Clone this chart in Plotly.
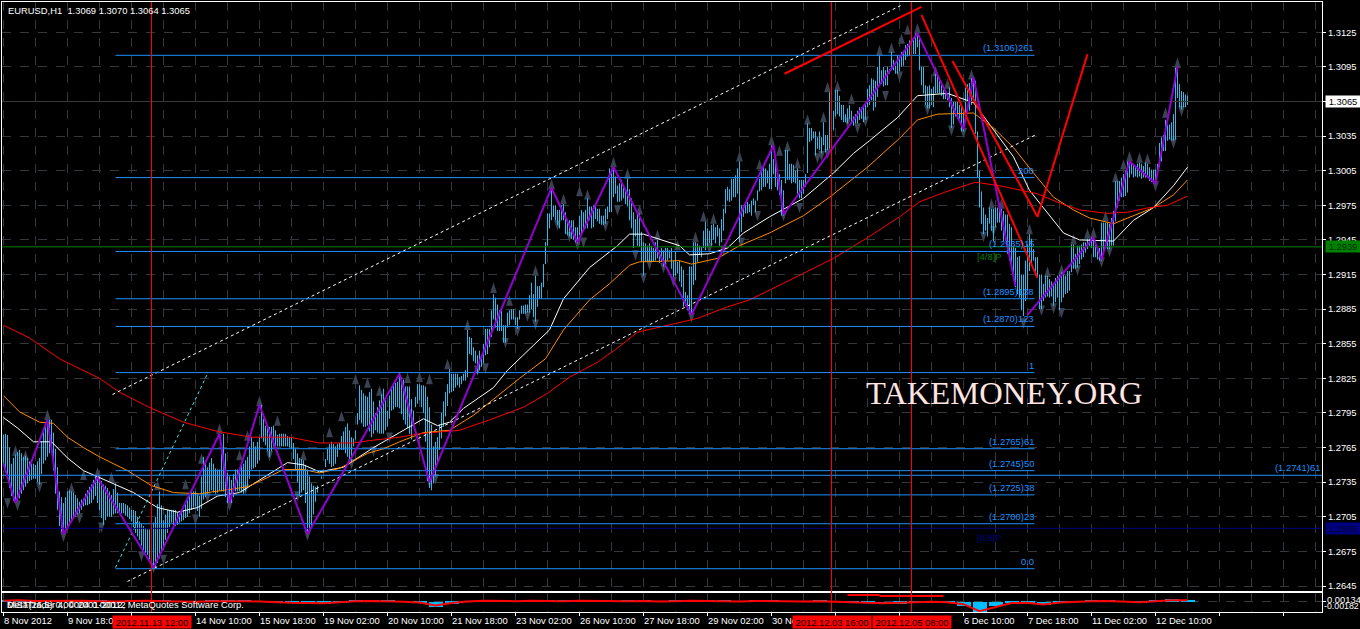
import plotly.graph_objects as go

# ---------- data: hourly EURUSD bars, in points (1/10000) ----------
bar_high = [
12776,12777,12776,12765,12751,12756,12759,12761,12763,12760,12757,12758,12756,12753,12751,12751,
12750,12753,12756,12770,12782,12787,12789,12789,12789,12778,12764,12748,12727,12722,12717,12722,
12727,12728,12727,12726,12724,12721,12718,12720,12721,12725,12728,12731,12733,12737,12740,12740,
12740,12736,12733,12732,12730,12727,12724,12729,12734,12726,12717,12717,12717,12716,12715,12713,
12711,12711,12710,12705,12701,12699,12697,12695,12694,12694,12695,12700,12705,12716,12727,12715,
12702,12707,12711,12711,12711,12711,12711,12709,12708,12710,12711,12716,12720,12724,12727,12727,
12727,12725,12723,12740,12757,12752,12748,12752,12756,12751,12747,12746,12746,12760,12777,12760,
12743,12740,12737,12742,12746,12746,12746,12749,12751,12754,12757,12766,12774,12770,12766,12770,
12774,12802,12790,12784,12783,12783,12783,12784,12780,12776,12777,12777,12777,12777,12775,12774,
12774,12769,12764,12760,12756,12755,12754,12750,12746,12740,12734,12732,12731,12732,12734,12740,
12746,12755,12764,12768,12770,12768,12766,12768,12769,12775,12779,12783,12786,12780,12774,12773,
12772,12795,12819,12815,12812,12810,12809,12813,12816,12805,12795,12800,12806,12811,12816,12806,
12797,12810,12816,12820,12821,12822,12830,12826,12824,12818,12818,12818,12807,12797,12809,12820,
12820,12819,12819,12818,12809,12800,12785,12766,12770,12774,12785,12795,12805,12813,12820,12833,
12829,12829,12829,12829,12826,12827,12829,12832,12867,12861,12860,12852,12849,12845,12849,12845,
12855,12868,12868,12868,12884,12898,12895,12889,12884,12884,12871,12871,12882,12884,12885,12885,
12878,12878,12884,12888,12888,12889,12889,12897,12908,12898,12914,12905,12905,12908,12924,12943,
12968,12968,12990,12975,12975,12971,12971,12975,12976,12969,12962,12962,12962,12962,12956,12956,
12966,12971,12969,12971,12981,12974,12974,12975,12975,12972,12972,12966,12966,12972,12974,13007,
13004,13008,13000,12992,12994,12997,12991,12988,12998,12989,12981,12969,12963,12969,12968,12952,
12943,12942,12940,12942,12940,12938,12943,12945,12936,12938,12936,12938,12938,12936,12938,12927,
12935,12926,12927,12922,12919,12900,12897,12922,12922,12943,12943,12942,12940,12939,12953,12961,
12955,12953,12958,12959,12956,12958,12955,12963,12972,12989,12991,12989,12998,12998,13001,13007,
13013,12975,12975,12975,12978,12976,12979,12981,12979,12988,12998,13005,13008,13007,13005,13011,
13027,13015,13014,13002,13002,12997,12988,13023,13023,13011,13011,13010,13005,13007,12997,12997,
12997,13002,13046,13042,13042,13039,13039,13034,13039,13034,13047,13036,13036,13073,13066,13057,
13075,13075,13070,13062,13062,13054,13059,13062,13057,13052,13054,13057,13060,13060,13062,13063,
13076,13079,13085,13084,13083,13095,13105,13092,13095,13092,13095,13093,13108,13101,13096,13105,
13102,13108,13109,13114,13115,13118,13117,13119,13124,13124,13122,13095,13095,13079,13078,13079,
13076,13078,13089,13088,13085,13082,13075,13075,13072,13077,13068,13065,13065,13065,13062,13062,
13057,13077,13080,13081,13085,13083,13083,13039,13005,12987,12973,12967,12964,12973,12972,12972,
12973,12973,12972,12972,12970,12967,12967,12959,12956,12940,12938,12930,12931,12915,12915,12927,
12941,12950,12946,12937,12930,12930,12915,12915,12907,12914,12914,12911,12909,12907,12912,12914,
12915,12917,12915,12914,12918,12918,12941,12941,12933,12940,12940,12941,12943,12943,12946,12946,
12947,12947,12943,12938,12938,12960,12960,12960,12960,12959,12964,12970,12996,12996,12996,12999,
13002,13005,13013,13013,13012,13011,13009,13011,13012,13011,13009,13012,13011,13008,13006,13006,
13006,13011,13029,13034,13036,13049,13045,13045,13047,13054,13094,13095,13080,13074,13073,13071,
13070]
bar_low = [
12751,12745,12738,12730,12723,12719,12717,12719,12721,12725,12728,12731,12734,12736,12737,12738,
12738,12735,12733,12742,12751,12754,12757,12760,12764,12745,12725,12711,12697,12692,12690,12694,
12697,12700,12702,12704,12705,12707,12708,12711,12714,12715,12715,12716,12717,12720,12723,12717,
12711,12704,12698,12702,12705,12705,12705,12707,12708,12708,12708,12708,12708,12706,12705,12703,
12701,12696,12691,12688,12685,12680,12676,12674,12672,12668,12665,12662,12661,12665,12669,12674,
12678,12685,12691,12696,12700,12698,12697,12698,12700,12701,12702,12704,12705,12708,12711,12713,
12714,12710,12705,12712,12720,12722,12725,12727,12728,12726,12725,12726,12728,12727,12727,12722,
12717,12717,12717,12722,12727,12727,12727,12726,12725,12727,12730,12738,12746,12747,12748,12751,
12754,12773,12770,12767,12762,12757,12762,12766,12766,12766,12766,12766,12766,12766,12766,12765,
12764,12755,12746,12735,12723,12726,12728,12717,12690,12693,12697,12707,12718,12726,12734,12738,
12743,12748,12754,12751,12748,12749,12751,12757,12763,12763,12763,12760,12757,12755,12753,12766,
12780,12785,12789,12786,12783,12783,12784,12779,12774,12777,12780,12778,12777,12777,12777,12780,
12783,12790,12797,12798,12800,12800,12799,12794,12789,12785,12782,12777,12772,12786,12800,12803,
12806,12800,12795,12770,12736,12730,12728,12734,12740,12752,12763,12773,12783,12792,12801,12812,
12813,12814,12817,12819,12817,12820,12823,12823,12826,12846,12845,12840,12838,12829,12832,12835,
12838,12845,12846,12852,12861,12876,12869,12866,12866,12866,12856,12856,12869,12871,12876,12876,
12871,12868,12876,12881,12881,12881,12882,12882,12885,12878,12874,12887,12894,12894,12904,12924,
12940,12955,12962,12965,12962,12958,12955,12962,12962,12950,12949,12948,12946,12945,12943,12942,
12949,12950,12953,12955,12955,12962,12955,12956,12963,12961,12959,12958,12958,12959,12963,12969,
12969,12982,12985,12978,12978,12979,12981,12976,12974,12962,12955,12938,12948,12940,12939,12926,
12914,12926,12926,12926,12926,12926,12927,12929,12925,12926,12922,12922,12927,12929,12920,12913,
12914,12916,12909,12904,12887,12888,12884,12881,12880,12906,12910,12926,12932,12930,12938,12936,
12939,12942,12940,12945,12942,12948,12940,12943,12953,12968,12979,12978,12979,12982,12982,12985,
12943,12952,12965,12968,12968,12969,12966,12975,12969,12979,12987,12988,12991,12991,12994,12989,
12989,13002,12991,12988,12984,12966,12966,12994,12997,12997,12994,12995,12994,12985,12981,12981,
12985,12991,13003,13030,13031,13033,13018,13024,13023,13020,13027,13021,13023,13024,13034,13040,
13052,13054,13052,13049,13047,13047,13046,13050,13046,13044,13046,13046,13049,13050,13047,13049,
13060,13062,13066,13057,13060,13069,13080,13080,13078,13079,13079,13089,13092,13092,13089,13089,
13091,13095,13096,13101,13104,13105,13105,13106,13106,13112,13092,13079,13072,13062,13059,13059,
13062,13060,13072,13072,13072,13070,13067,13067,13066,13060,13042,13045,13052,13050,13050,13039,
13039,13048,13065,13057,13062,13065,13037,12999,12973,12959,12950,12953,12948,12959,12953,12944,
12956,12960,12960,12953,12944,12944,12933,12927,12921,12915,12904,12898,12895,12884,12879,12892,
12901,12918,12924,12927,12914,12912,12885,12885,12892,12895,12896,12895,12896,12888,12891,12895,
12884,12891,12895,12898,12899,12901,12917,12920,12920,12921,12924,12928,12930,12934,12937,12940,
12938,12930,12930,12928,12927,12927,12933,12943,12937,12937,12940,12940,12961,12973,12979,12982,
12982,12983,12986,12999,13002,12999,13000,12999,13000,12998,12999,12999,13000,12996,12995,12994,
12994,13002,13008,13013,13022,13022,13031,13032,13031,13031,13032,13068,13060,13058,13060,13060,
13062]

zig_bar = [0,6,22,30,47,75,108,113,128,152,198,213,274,287,305,344,385,390,457,480,485,506,None,512,545,549,563,576,587]
zig_val = [12751,12717,12789,12690,12739,12661,12777,12717,12802,12690,12829,12735,12990,12943,13008,12880,13027,12967,13124,13041,13086,12905,None,12880,12947,12928,13013,12994,13095]

red_bar = [0,13,28,40,48,58,74,90,107,124,143,158,175,183,198,208,223,228,243,260,272,283,297,306,317,337,347,362,373,400,415,432,448,458,470,486,498,517,528,538,552,562,573,582,592]
red_val = [12871,12860,12842,12832,12825,12813,12799,12787,12779,12774,12774,12769,12769,12771,12774,12777,12779,12780,12789,12800,12812,12826,12839,12850,12865,12873,12877,12887,12893,12916,12929,12947,12965,12978,12986,12995,12992,12985,12977,12971,12968,12969,12973,12975,12983]
orange_bar = [0,8,18,25,32,40,48,62,74,85,98,113,122,132,140,150,158,168,182,190,198,210,223,235,247,258,271,280,293,303,313,318,338,344,357,368,383,400,413,432,448,457,467,485,495,505,515,525,535,543,555,565,575,585,592]
orange_val = [12810,12796,12787,12786,12774,12765,12757,12745,12732,12726,12725,12729,12731,12739,12746,12746,12743,12747,12760,12764,12770,12778,12780,12793,12810,12825,12842,12867,12893,12907,12923,12926,12927,12924,12929,12940,12951,12966,12982,13008,13033,13049,13054,13055,13042,13025,13003,12982,12971,12964,12959,12966,12973,12984,12997]
white_bar = [0,7,15,24,32,40,48,65,77,87,97,107,118,130,142,150,158,170,185,198,210,217,223,230,245,252,268,273,280,293,307,313,320,338,343,353,362,370,383,400,415,425,433,447,457,472,485,495,505,513,522,530,538,555,565,575,585,592]
white_val = [12791,12782,12770,12770,12756,12745,12739,12726,12713,12709,12713,12723,12726,12739,12752,12750,12744,12748,12765,12778,12790,12784,12787,12799,12817,12832,12858,12867,12894,12921,12940,12950,12950,12940,12932,12933,12938,12951,12965,12981,13003,13020,13031,13051,13070,13072,13064,13040,13017,12988,12968,12951,12945,12944,12962,12973,12992,13008]

up_bar = [6,11,22,34,40,47,54,77,91,99,108,118,122,128,137,150,163,169,176,182,188,202,208,213,222,232,245,253,266,274,280,288,292,305,312,318,327,337,346,350,355,368,378,384,388,392,397,402,410,412,417,424,438,444,449,452,457,466,472,484,494,499,513,522,529,535,542,545,551,556,560,563,568,572,581,587]
up_val = [12767,12763,12798,12735,12746,12748,12744,12737,12738,12760,12786,12763,12780,12810,12793,12763,12783,12797,12829,12826,12819,12830,12831,12829,12842,12876,12908,12897,12923,12998,12985,12992,12989,13017,13007,12976,12954,12945,12952,12970,12968,13022,13015,13036,13027,13031,13016,13054,13056,13082,13083,13072,13114,13116,13124,13132,13133,13096,13085,13093,12981,12981,12959,12922,12924,12950,12955,12956,12970,13004,13015,13022,13021,13020,13060,13103]
down_bar = [2,7,18,30,38,49,69,75,80,96,102,113,121,133,147,152,174,185,193,203,213,216,237,241,251,257,262,266,277,283,287,290,301,307,316,320,323,330,335,344,353,360,369,377,390,398,407,412,427,409,422,431,441,448,462,474,480,490,495,510,519,525,529,537,549,553,576,585,589]
down_val = [12712,12710,12726,12683,12699,12691,12666,12656,12663,12698,12717,12710,12724,12753,12718,12684,12746,12757,12769,12789,12730,12733,12827,12829,12851,12861,12874,12867,12953,12943,12936,12938,12952,12966,12927,12907,12919,12916,12904,12873,12933,12931,12938,12961,12961,12968,13011,13015,13037,13013,13042,13043,13065,13082,13053,13035,13033,12943,12948,12868,12879,12881,12877,12914,12921,12930,12987,13024,13052]

fib_val = [13105,12999,12935,12894,12870,12830,12764,12745,12724,12699,12660]
fib_txt = ["(1.3106)261","200","(1.2935)15","(1.2895)138","(1.2870)123","1","(1.2765)61","(1.2745)50","(1.2725)38","(1.2700)23","0.0"]

osc_line = [25,30,20,25,30,25,15,10,20,25,15,10,5,15,20,15,10,-5,-15,-20,-25,-5,15,20,15,5,-10,-65,-20,10,25,20,15,25,20,15,25,20,10,15,20,10,15,25,20,15,10,20,15,5,10,15,5,0,-10,-25,-15,0,5,-5,-40,-170,-90,-20,-15,-45,-10,5,15,20,10,-5,15,30,30]
osc_hist = [35,40,25,30,40,30,20,5,25,35,20,15,0,20,30,25,15,-10,-25,-35,-35,-10,25,30,20,0,-20,-90,-35,15,35,25,10,35,25,20,35,25,5,20,30,5,20,35,25,20,5,25,20,0,5,20,0,-5,-25,-40,-30,-5,10,-15,-70,-190,-70,-15,-25,-60,-15,10,25,30,15,-10,25,50,45]

time_bar = [0,32,96,128,160,192,224,256,288,320,352,384,480,512,544,576]
time_txt = ["8 Nov 2012","9 Nov 18:00","14 Nov 10:00","15 Nov 18:00","19 Nov 02:00","20 Nov 10:00","21 Nov 18:00","23 Nov 02:00","26 Nov 10:00","27 Nov 18:00","29 Nov 02:00","30 Nov 10:00","6 Dec 10:00","7 Dec 18:00","11 Dec 02:00","12 Dec 10:00"]
vline_bar = [74,414,454]
vline_txt = ["2012.11.13 12:00","2012.12.03 16:00","2012.12.05 08:00"]

# ---------- layout constants ----------
W, H = 1360, 629
L, R, T, B, T2, B2 = 2, 1322, 2, 591, 593, 612
FONT = "Liberation Sans, Arial, sans-serif"
FS = 9.4
BLUE = "#1E90FF"
px = lambda v: v / W
py = lambda v: 1 - v / H
pr = lambda v: v / 10000.0
lst = lambda a: [None if v is None else pr(v) for v in a]

fig = go.Figure()


def line(xs, ys, color, width=1, dash="solid", xaxis="x", yaxis="y"):
    fig.add_trace(go.Scatter(x=xs, y=ys, mode="lines", xaxis=xaxis, yaxis=yaxis,
                             line=dict(color=color, width=width, dash=dash),
                             hoverinfo="skip", showlegend=False, connectgaps=False))


# fractal markers
for xs, ys, ang in ((up_bar, up_val, 0), (down_bar, down_val, 180)):
    fig.add_trace(go.Scatter(x=xs, y=lst(ys), mode="markers",
                             marker=dict(symbol="arrow", size=11, angle=ang, color="#3A4252", line=dict(width=0)),
                             hoverinfo="skip", showlegend=False))

# price bars
bx, by = [], []
for i, (h, l) in enumerate(zip(bar_high, bar_low)):
    bx += [i, i, None]
    by += [pr(h), pr(l), None]
line(bx, by, "#33B8EA", 1)

# moving averages
line(white_bar, lst(white_val), "#FFFFFF", 1)
line(orange_bar, lst(orange_val), "#FF8C00", 1)
line(red_bar, lst(red_val), "#FF0000", 1)

# channel and trend lines
line([54.5, 448.5], lst([12811, 13148]), "#FFFFFF", 1, "dot")
line([62, 516], lst([12649, 13036]), "#FFFFFF", 1, "dot")
line([56, 102], lst([12661, 12829]), "#40E8E8", 1, "dot")

# full width price lines
line([-0.75, 659.25], lst([13065, 13065]), "#3A3A3A", 1)
line([-0.75, 659.25], lst([12695, 12695]), "#000080", 1)
line([-0.75, 659.25], lst([12741, 12741]), BLUE, 1)
line([-0.75, 659.25], lst([12939, 12939]), "#008000", 1)

# fibonacci levels
fx, fy = [], []
for v in fib_val:
    fx += [56, 515.5, None]
    fy += [pr(v), pr(v), None]
line(fx, fy, BLUE, 1)

# zigzag
line(zig_bar, lst(zig_val), "#9400D3", 2)

# red drawn lines
line([390.5, 459], lst([13089, 13147]), "#FF0000", 2)
line([459, 517], lst([13140, 12912]), "#FF0000", 2)
line([474.5, 517, 542], lst([13100, 12965, 13106]), "#FF0000", 2)

# oscillator panel
osc_x = list(range(0, 600, 8))[:len(osc_line)]
fig.add_trace(go.Bar(x=osc_x, y=[v * 1e-5 for v in osc_hist], width=7, marker=dict(color="#00BFFF", line=dict(width=0)),
                     xaxis="x2", yaxis="y2", hoverinfo="skip", showlegend=False))
line(osc_x, [v * 1e-5 for v in osc_line], "#FF0000", 2, xaxis="x2", yaxis="y2")
line([422, 438], [0.00130, 0.00130], "#FF0000", 2, xaxis="x2", yaxis="y2")
line([438, 470], [0.00110, 0.00110], "#FF0000", 2, xaxis="x2", yaxis="y2")

shapes = [dict(type="line", xref="x", yref="paper", x0=b, x1=b, y0=py(B2), y1=py(T),
               line=dict(color="#FF0000", width=1), layer="above") for b in vline_bar]

ann = []


def text(s, x, y, color="#FFFFFF", size=FS, xanchor="left", yanchor="middle", xref="paper", yref="paper", family=FONT, **kw):
    ann.append(dict(text=s, x=x, y=y, xref=xref, yref=yref, xanchor=xanchor, yanchor=yanchor, showarrow=False,
                    borderpad=0, font=dict(color=color, size=size, family=family), **kw))


for v, s in zip(fib_val, fib_txt):
    text(s, 515.5, pr(v), BLUE, FS, "right", "bottom", "x", "y", yshift=1)
text("(1.2741)61", px(1321), pr(12741), BLUE, FS, "right", "bottom", "paper", "y", yshift=1)
text("[4/8]P", 486, pr(12931), "#008000", FS, "left", "middle", "x", "y")
text("[0/8]P", 486, pr(12687), "#000080", FS, "left", "middle", "x", "y")

text("TAKEMONEY.ORG", px(1003.5), py(393), "#FFE4E1", 32.6, "center", "middle", family="Liberation Serif, serif")
text("EURUSD,H1\u00a0\u00a01.3069 1.3070 1.3064 1.3065", px(7), py(10))
text("MetaTrader 4, \u00a9 2001-2012, MetaQuotes Software Corp.", px(6), py(604))
text("DIST(26,5) 0.00004 0.00012", px(6), py(604))

for b, s in zip(time_bar, time_txt):
    text(s, b - 0.25, py(620), xref="x2")
for b, s in zip(vline_bar, vline_txt):
    text(s, b, py(621.5), "#000000", FS, "center", "middle", xref="x2", bgcolor="#FF0000", width=78, height=12)

for v, s, bg, fg in ((13065, "1.3065", "#FFFFFF", "#000000"), (12939, "1.2939", "#008000", "#003000"), (12695, "1.2695", "#000080", "#000030")):
    text(s, px(1325), pr(v), fg, FS, "left", "middle", "paper", "y", bgcolor=bg, width=34, height=11, align="center")

text("0.00134", px(1326), py(599))
text("-0.00182", px(1323), py(606), size=8.8)

grid = "#33383D"
fig.update_layout(
    width=W, height=H, margin=dict(l=0, r=0, t=0, b=0), autosize=False,
    paper_bgcolor="#000000", plot_bgcolor="#000000",
    font=dict(family=FONT, size=FS, color="#FFFFFF"), showlegend=False, hovermode=False,
    bargap=0, shapes=shapes, annotations=ann,
    xaxis=dict(domain=[px(L), px(R)], range=[-0.75, 659.25], anchor="y", tick0=0, dtick=16, showticklabels=False,
               ticks="", showgrid=True, gridcolor=grid, griddash="dash", gridwidth=1, zeroline=False,
               showline=True, linecolor="#FFFFFF", linewidth=1, mirror=True),
    yaxis=dict(domain=[py(B), py(T)], range=[1.26407, 1.31512], anchor="x", side="right",
               tickmode="array", tickvals=[(12645 + 30 * k) / 10000 for k in range(17)], tickformat=".4f",
               ticks="outside", ticklen=3, tickcolor="#FFFFFF", showgrid=True, gridcolor=grid, griddash="dash",
               gridwidth=1, zeroline=False, showline=True, linecolor="#FFFFFF", linewidth=1, mirror=True,
               tickfont=dict(size=FS, color="#FFFFFF")),
    xaxis2=dict(domain=[px(L), px(R)], range=[-0.75, 659.25], anchor="y2", tick0=0, dtick=32, showticklabels=False,
                ticks="outside", ticklen=3, tickcolor="#FFFFFF", showgrid=True, gridcolor=grid, griddash="dash",
                zeroline=False, showline=True, linecolor="#FFFFFF", linewidth=1, mirror=True,
                minor=dict(dtick=16, tick0=0, showgrid=True, gridcolor=grid, griddash="dash", ticks="")),
    yaxis2=dict(domain=[py(B2), py(T2)], range=[-0.00186, 0.00167], anchor="x2", side="right",
                tickmode="array", tickvals=[0], showticklabels=False, ticks="outside", ticklen=3, tickcolor="#FFFFFF",
                showgrid=True, gridcolor=grid, griddash="dash", zeroline=False,
                showline=True, linecolor="#FFFFFF", linewidth=1, mirror=True),
)

fig.write_html("out.html", config=dict(displayModeBar=False),
               post_script="document.body.style.margin='0';document.body.style.background='#000';document.documentElement.style.overflow='hidden';")
